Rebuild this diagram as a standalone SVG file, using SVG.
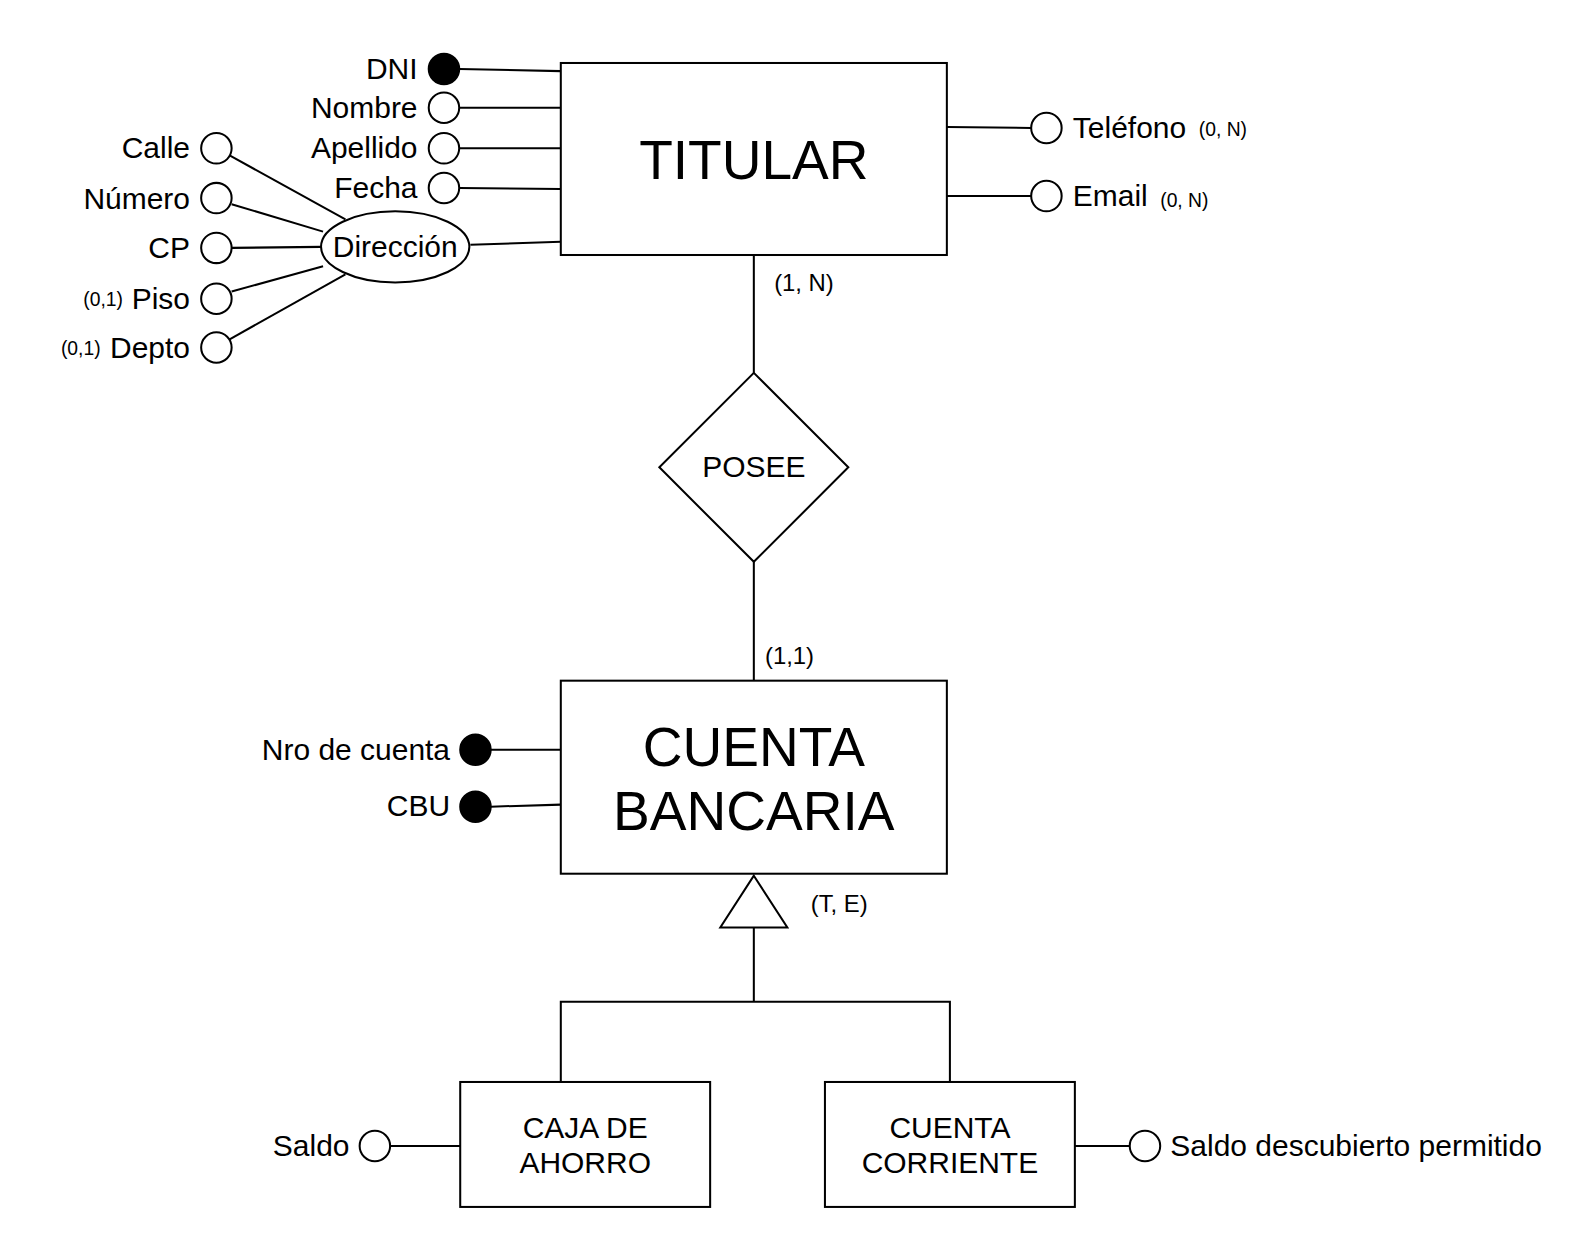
<svg xmlns="http://www.w3.org/2000/svg" width="1593" height="1259" viewBox="0 0 1593 1259">
<style>
.s{fill:none;stroke:#000;stroke-width:2}
.b{fill:#fff;stroke:#000;stroke-width:2}
.k{fill:#000;stroke:#000;stroke-width:2}
text{font-family:"Liberation Sans",Arial,sans-serif;fill:#000}
.a{font-size:29.5px}
.r{text-anchor:end}
.m{text-anchor:middle}
.sm{font-size:19px}
.c{font-size:23.5px}
.big{font-size:54.2px}
</style>
<rect width="1593" height="1259" fill="#fff"/>
<g transform="scale(1.01594)">
<g id="connectors">
<line class="s" x1="452" y1="68" x2="552" y2="70"/>
<line class="s" x1="452" y1="106" x2="552" y2="106"/>
<line class="s" x1="452" y1="146" x2="552" y2="146"/>
<line class="s" x1="452" y1="185" x2="552" y2="186"/>
<line class="s" x1="463" y1="241" x2="552" y2="238"/>
<line class="s" x1="226" y1="153" x2="340" y2="216"/>
<line class="s" x1="228" y1="201" x2="318" y2="228"/>
<line class="s" x1="228" y1="244" x2="316" y2="243"/>
<line class="s" x1="228" y1="287" x2="318" y2="262"/>
<line class="s" x1="226" y1="334" x2="340" y2="270"/>
<line class="s" x1="932" y1="125" x2="1015" y2="126"/>
<line class="s" x1="932" y1="193" x2="1015" y2="193"/>
<line class="s" x1="742" y1="251" x2="742" y2="367"/>
<line class="s" x1="742" y1="553" x2="742" y2="670"/>
<line class="s" x1="483" y1="738" x2="552" y2="738"/>
<line class="s" x1="483" y1="794" x2="552" y2="792"/>
<polyline class="s" points="742,913 742,986"/>
<polyline class="s" points="552,1065 552,986 935,986 935,1065"/>
<line class="s" x1="384" y1="1128" x2="453" y2="1128"/>
<line class="s" x1="1058" y1="1128" x2="1112" y2="1128"/>
<polygon class="b" points="742,862 775,913 709,913"/>
<text class="c" x="762" y="286">(1, N)</text>
<text class="c" x="753" y="654">(1,1)</text>
<text class="c" x="798" y="898">(T, E)</text>
</g>
<g id="titular">
<rect class="b" x="552" y="62" width="380" height="189"/>
<text class="big m" x="742" y="176">TITULAR</text>
</g>
<g id="posee">
<polygon class="b" points="742,367 835,460 742,553 649,460"/>
<text class="a m" x="742" y="470">POSEE</text>
</g>
<g id="cuenta-bancaria">
<rect class="b" x="552" y="670" width="380" height="190"/>
<text class="big m" x="742" y="754">CUENTA</text>
<text class="big m" x="742" y="817">BANCARIA</text>
</g>
<g id="caja-ahorro">
<rect class="b" x="453" y="1065" width="246" height="123"/>
<text class="a m" x="576" y="1120">CAJA DE</text>
<text class="a m" x="576" y="1155">AHORRO</text>
</g>
<g id="cuenta-corriente">
<rect class="b" x="812" y="1065" width="246" height="123"/>
<text class="a m" x="935" y="1120">CUENTA</text>
<text class="a m" x="935" y="1155">CORRIENTE</text>
</g>
<g id="attr-dni"><circle class="k" cx="437" cy="68" r="15"/><text class="a r" x="411" y="78">DNI</text></g>
<g id="attr-nombre"><circle class="b" cx="437" cy="106" r="15"/><text class="a r" x="411" y="116">Nombre</text></g>
<g id="attr-apellido"><circle class="b" cx="437" cy="146" r="15"/><text class="a r" x="411" y="156">Apellido</text></g>
<g id="attr-fecha"><circle class="b" cx="437" cy="185" r="15"/><text class="a r" x="411" y="195">Fecha</text></g>
<g id="attr-direccion"><ellipse class="b" cx="389" cy="243" rx="73" ry="35"/><text class="a m" x="389" y="253">Dirección</text></g>
<g id="attr-calle"><circle class="b" cx="213" cy="146" r="15"/><text class="a r" x="187" y="156">Calle</text></g>
<g id="attr-numero"><circle class="b" cx="213" cy="195" r="15"/><text class="a r" x="187" y="206">Número</text></g>
<g id="attr-cp"><circle class="b" cx="213" cy="244" r="15"/><text class="a r" x="187" y="254">CP</text></g>
<g id="attr-piso"><circle class="b" cx="213" cy="294" r="15"/><text class="a r" x="187" y="304">Piso</text><text class="sm r" x="121" y="301">(0,1)</text></g>
<g id="attr-depto"><circle class="b" cx="213" cy="342" r="15"/><text class="a r" x="187" y="352">Depto</text><text class="sm r" x="99" y="349">(0,1)</text></g>
<g id="attr-telefono"><circle class="b" cx="1030" cy="126" r="15"/><text class="a" x="1056" y="136">Teléfono</text><text class="sm" x="1180" y="134">(0, N)</text></g>
<g id="attr-email"><circle class="b" cx="1030" cy="193" r="15"/><text class="a" x="1056" y="203">Email</text><text class="sm" x="1142" y="204">(0, N)</text></g>
<g id="attr-nro-cuenta"><circle class="k" cx="468" cy="738" r="15"/><text class="a r" x="443" y="748">Nro de cuenta</text></g>
<g id="attr-cbu"><circle class="k" cx="468" cy="794" r="15"/><text class="a r" x="443" y="803">CBU</text></g>
<g id="attr-saldo"><circle class="b" cx="369" cy="1128" r="15"/><text class="a r" x="344" y="1138">Saldo</text></g>
<g id="attr-saldo-desc"><circle class="b" cx="1127" cy="1128" r="15"/><text class="a" x="1152" y="1138">Saldo descubierto permitido</text></g>
</g>
</svg>
